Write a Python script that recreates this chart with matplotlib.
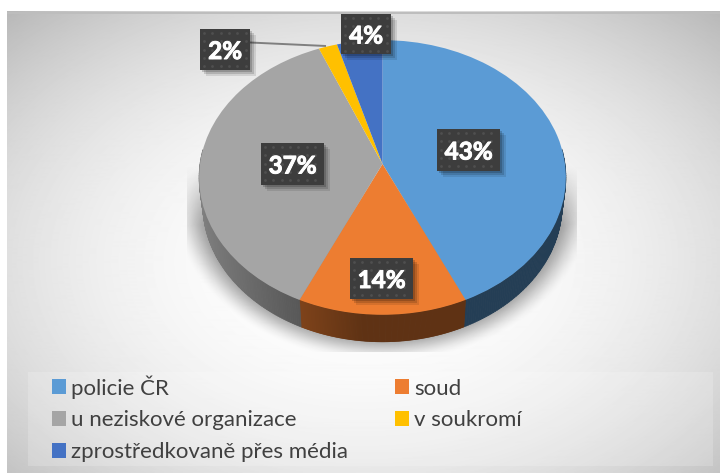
import numpy as np
import matplotlib
matplotlib.use("Agg")
import matplotlib.pyplot as plt
import matplotlib.patheffects as pe
from matplotlib.path import Path
from matplotlib.patches import Rectangle
from matplotlib.collections import PolyCollection
from matplotlib.transforms import Transform

plt.rcParams['font.family'] = ['Lato', 'DejaVu Sans']

categories = ["policie ČR", "soud", "u neziskové organizace", "v soukromí", "zprostředkovaně přes média"]
values = [43.2, 13.6, 37.0, 1.8, 4.4]
colors = ["#5B9BD5", "#ED7D31", "#A5A5A5", "#FFC000", "#4472C4"]

W, H = 720, 473
CX, CY, A, B, K = 382.5, 164.0, 182.5, 136.0, 0.098
DEPTH = 27.0


def project(u, v):
    w = 1 + K * v
    return CX + A * u / w, CY - B * v / w


class Perspective(Transform):
    input_dims = output_dims = 2
    is_separable = False
    has_inverse = False

    def transform_non_affine(self, xy):
        xy = np.asarray(xy, float)
        X, Y = project(xy[:, 0], xy[:, 1])
        return np.column_stack([X, Y])

    def transform_path_non_affine(self, path):
        return Path(self.transform_non_affine(path.vertices), path.codes)


fig = plt.figure(figsize=(W / 100, H / 100), dpi=100, facecolor="white")
ax = fig.add_axes([0, 0, 1, 1])

# pie top
wedges, _ = ax.pie(values, colors=colors, startangle=90, counterclock=False, radius=1.0)
ax.set_aspect("auto")
ax.set_xlim(0, W)
ax.set_ylim(H, 0)
ax.axis("off")
persp = Perspective()
for w_ in wedges:
    w_.set_transform(persp + ax.transData)
    w_.set_linewidth(0)
    w_.set_clip_on(False)
    w_.set_zorder(5)

# background
yy, xx = np.mgrid[12:H, 7:W] + 0.5
r2 = ((xx - 365) / 358) ** 2 + ((yy - 262) / 240) ** 2
bg = np.clip(1 - 0.125 * r2 ** 1.1, 0.72, 1)
ax.imshow(bg, extent=(7, W, H, 12), cmap="gray", vmin=0, vmax=1, zorder=0, aspect="auto", interpolation="bilinear")
ax.add_patch(Rectangle((7, 12), W - 7, 2, fc="#bdbdbd", ec="none", zorder=1))
ax.set_xlim(0, W)
ax.set_ylim(H, 0)

# soft shadow beneath the pie
sy, sx = np.mgrid[165:352, 187:577] + 0.5
r = np.sqrt(((sx - CX) / 205.0) ** 2 + ((sy - 200.0) / 158.0) ** 2)
t = np.clip((1.03 - r) / 0.20, 0, 1)
fade = np.clip((sy - 165.0) / 60.0, 0, 1)
alpha = 0.42 * t * t * (3 - 2 * t) * fade
rgba = np.zeros(sx.shape + (4,))
rgba[..., 3] = alpha
ax.imshow(rgba, extent=(187, 577, 352, 165), zorder=2, aspect="auto", interpolation="bilinear")
ax.set_xlim(0, W)
ax.set_ylim(H, 0)

# pie side wall, built from the same values
edges = np.concatenate([[0], np.cumsum(values)]) / np.sum(values) * 2 * np.pi
polys, fcs = [], []
for i, c in enumerate(colors):
    base = np.array(matplotlib.colors.to_rgb(c))
    th = np.linspace(edges[i], edges[i + 1], 200)
    u, v = np.sin(th), np.cos(th)
    X, Y = project(u, v)
    for j in range(len(th) - 1):
        if v[j] > 0.1 and v[j + 1] > 0.1:
            continue
        um = (u[j] + u[j + 1]) / 2
        f = 0.40 + 0.42 * max(0.0, -um - 0.1)
        sc = 0.98
        polys.append([(X[j], Y[j]), (X[j + 1], Y[j + 1]),
                      (CX + (X[j + 1] - CX) * sc, Y[j + 1] + DEPTH),
                      (CX + (X[j] - CX) * sc, Y[j] + DEPTH)])
        fcs.append(tuple(base * f))
ax.add_collection(PolyCollection(polys, facecolors=fcs, edgecolors=fcs, linewidths=0.5, zorder=4))

# leader line for the 2 % label
ax.plot([250, 326], [42.5, 46], color="#7f7f7f", lw=1.4, zorder=6, solid_capstyle="butt")

# data labels
boxes = [(437, 129, 63, 42), (350, 258, 63, 41), (261, 143, 63, 42), (200, 29, 50, 41), (341, 14, 50, 40)]
for val, (bx, by, bw, bh) in zip(values, boxes):
    for s, a in zip((7, 5, 3), (0.10, 0.14, 0.18)):
        ax.add_patch(Rectangle((bx + s - 1, by + s - 1), bw, bh, fc="black", ec="none", alpha=a, zorder=7))
    ax.add_patch(Rectangle((bx, by), bw, bh, fc="#3D3D3D", ec="none", zorder=8))
    gx, gy = np.meshgrid(np.arange(bx + 4, bx + bw - 1, 8.3), np.arange(by + 4, by + bh - 1, 8.3))
    ax.plot(gx.ravel(), gy.ravel(), ls="none", marker="o", ms=2.0, mew=0, color="#4F4F4F", zorder=9)
    ax.text(bx + bw / 2, by + bh / 2, f"{val:.0f}%", color="white", fontsize=17.5, fontweight="bold",
            ha="center", va="center_baseline", zorder=10,
            path_effects=[pe.withStroke(linewidth=0.7, foreground="white")])

# legend
ax.add_patch(Rectangle((28, 372), 685, 94, fc="white", ec="none", alpha=0.18, zorder=3))
order = [0, 2, 4, 1, 3]
handles = [Rectangle((0, 0), 1, 1, fc=colors[i], ec="none") for i in order]
fs = 16
leg = ax.legend(handles, [categories[i] for i in order], ncol=2, frameon=False,
                loc="upper left", bbox_to_anchor=(52, 375), bbox_transform=ax.transData,
                borderpad=0, borderaxespad=0, fontsize=fs, labelcolor="#404040",
                handlelength=0.63, handleheight=0.63, handletextpad=0.23,
                labelspacing=0.53, columnspacing=2.1)
leg.set_zorder(11)

fig.savefig("out.png", dpi=100)
